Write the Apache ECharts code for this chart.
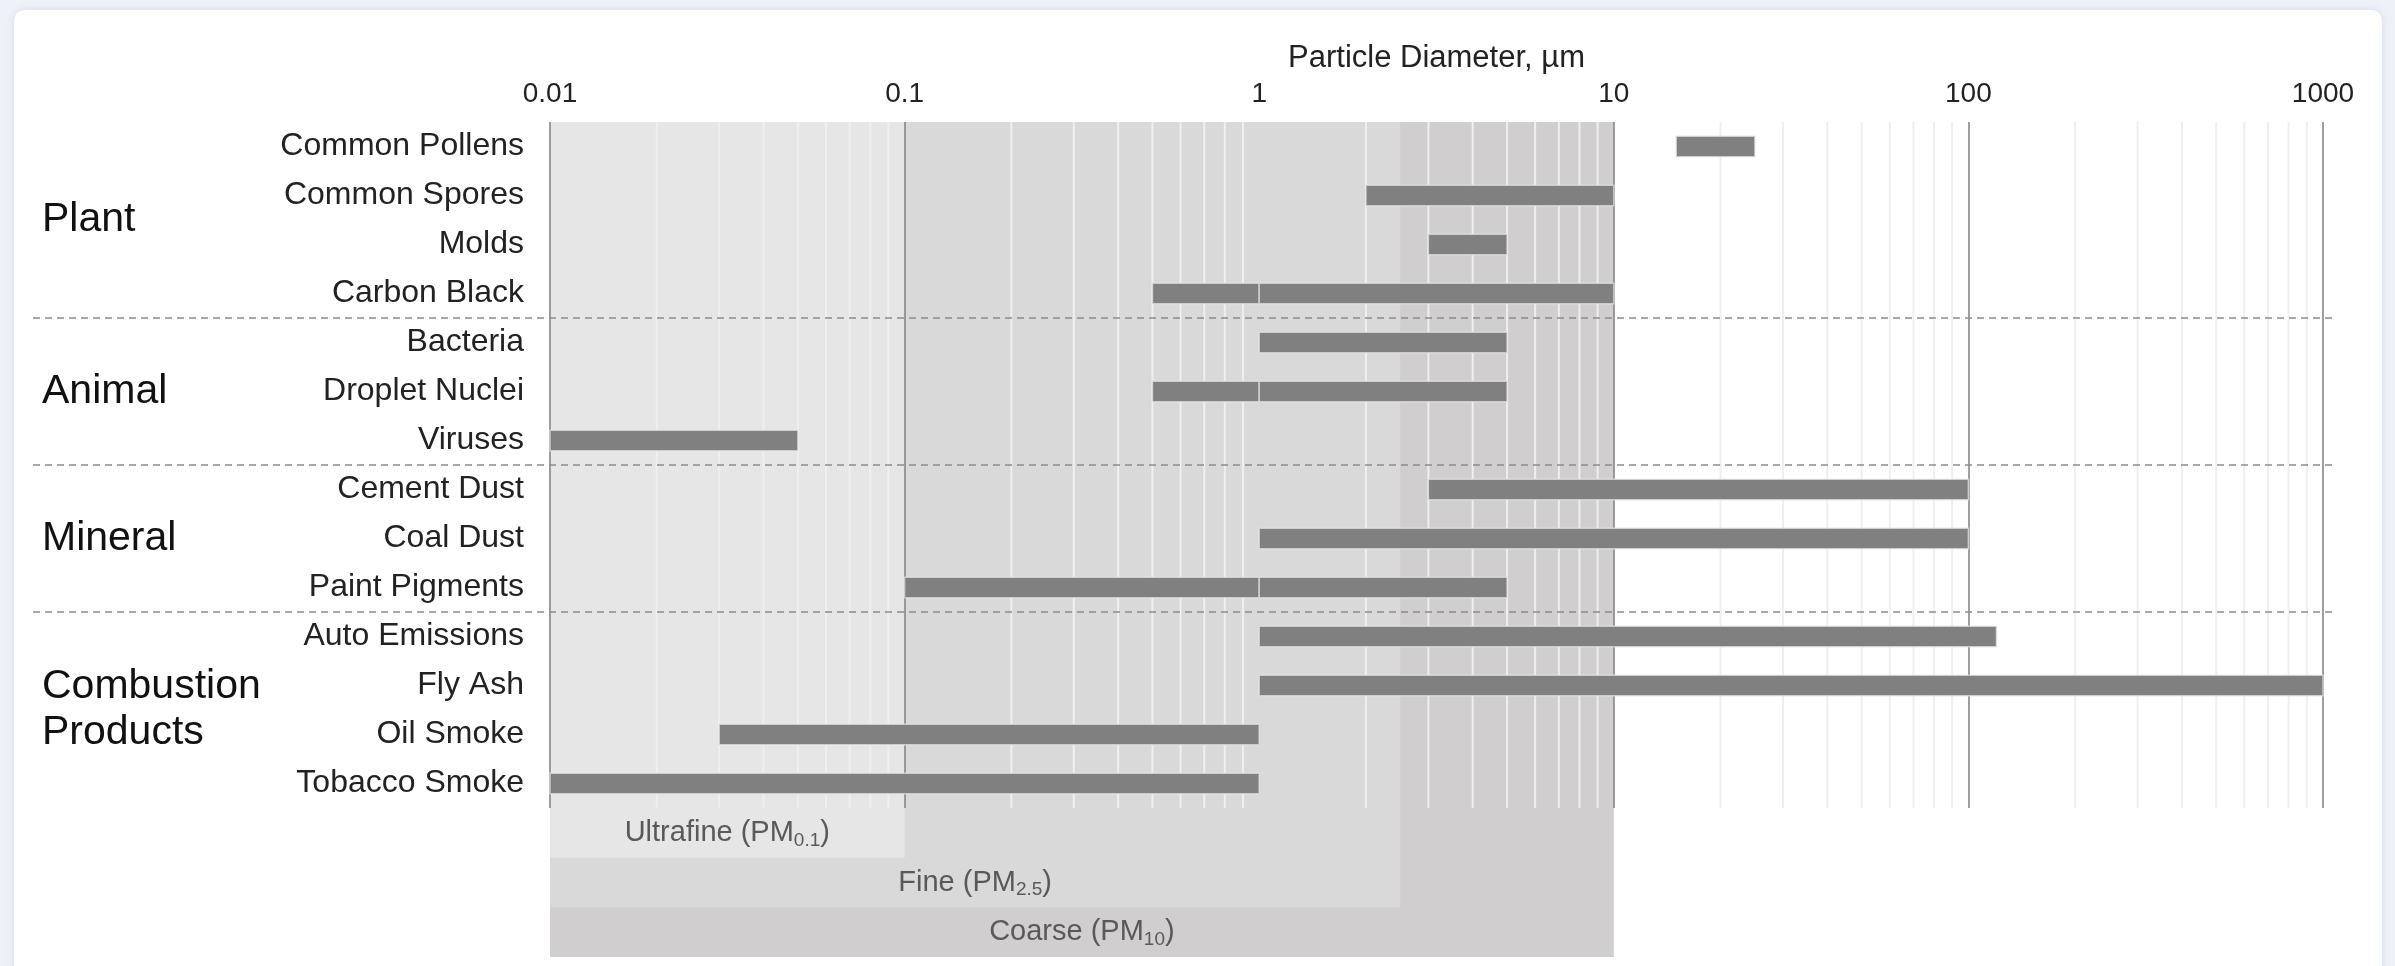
<!DOCTYPE html>
<html>
<head>
<meta charset="utf-8">
<title>Particle size ranges</title>
<script src="https://cdn.jsdelivr.net/npm/echarts@6/dist/echarts.min.js"></script>
<style>
  html, body { margin: 0; padding: 0; background: #eef1f8; overflow: hidden; }
  .card {
    position: absolute; left: 14px; top: 10px; width: 2368px; height: 1000px;
    background: #fff; border-radius: 10px;
    box-shadow: 0 0 6px rgba(190, 200, 225, 0.5);
  }
  #chart { position: absolute; left: 0; top: 0; width: 2395px; height: 966px; }
</style>
</head>
<body>
<div class="card"></div>
<div id="chart"></div>
<script>
// particle types, top to bottom
const categories = [
  'Common Pollens', 'Common Spores', 'Molds', 'Carbon Black',
  'Bacteria', 'Droplet Nuclei', 'Viruses',
  'Cement Dust', 'Coal Dust', 'Paint Pigments',
  'Auto Emissions', 'Fly Ash', 'Oil Smoke', 'Tobacco Smoke'
];
// size range in µm
const sizeLow  = [15, 2, 3, 0.5, 1, 0.5, 0.01, 3, 1, 0.1, 1, 1, 0.03, 0.01];
const sizeHigh = [25, 10, 5, 10, 5, 5, 0.05, 100, 100, 5, 120, 1000, 1, 1];
// ranges drawn as two pieces in the source
const breakAt  = [null, null, null, 1, null, 1, null, null, null, 1, null, null, null, null];

const groupNames  = ['Plant', 'Animal', 'Mineral', 'Combustion\nProducts'];
const groupCounts = [4, 3, 3, 4];

const fractionNames = ['Ultrafine', 'Fine', 'Coarse'];
const fractionSub   = ['0.1', '2.5', '10'];
const fractionLow   = [0.01, 0.01, 0.01];
const fractionHigh  = [0.1, 2.5, 10];

const xTicks = [0.01, 0.1, 1, 10, 100, 1000];

const FONT = '"Liberation Sans", Arial, sans-serif';
const bandColors = ['#e6e6e6', '#d9d9d9', '#d0cecf'];

// bar pieces: [low, high, category index]
const segments = [];
categories.forEach((name, i) => {
  if (breakAt[i]) {
    segments.push([sizeLow[i], breakAt[i], i]);
    segments.push([breakAt[i], sizeHigh[i], i]);
  } else {
    segments.push([sizeLow[i], sizeHigh[i], i]);
  }
});

// light grid lines at 2..9 of every decade
const minorLines = [];
for (let d = 0; d < xTicks.length - 1; d++) {
  for (let k = 2; k <= 9; k++) minorLines.push(+(xTicks[d] * k).toPrecision(3));
}

// widest band first so the narrow ones sit on top
const bandData = [2, 1, 0].map(i => [fractionLow[i], fractionHigh[i], i]);

const chart = echarts.init(document.getElementById('chart'));

const option = {
  animation: false,
  textStyle: { fontFamily: FONT },
  grid: [
    { left: 550, right: 72, top: 122, height: 686 },
    { left: 550, right: 72, top: 808, height: 149 }
  ],
  xAxis: [
    {
      type: 'log', gridIndex: 0, min: 0.01, max: 1000, position: 'top', z: 2,
      name: 'Particle Diameter, µm', nameLocation: 'middle', nameGap: 48,
      nameTextStyle: { fontSize: 31, color: '#222', fontFamily: FONT },
      axisLine: { show: false },
      axisTick: { show: false },
      axisLabel: {
        fontSize: 28, color: '#222', margin: 14, fontFamily: FONT,
        formatter: v => String(+v.toPrecision(3))
      },
      splitLine: {
        show: true,
        lineStyle: { color: ['#7f7f7f', '#7f7f7f', 'rgba(0,0,0,0)', '#7f7f7f', '#7f7f7f', '#7f7f7f'], width: 1.5 }
      }
    },
    {
      type: 'log', gridIndex: 1, min: 0.01, max: 1000, show: false,
      splitLine: { show: false }
    }
  ],
  yAxis: [
    {
      type: 'category', gridIndex: 0, data: categories, inverse: true,
      axisLine: { show: false }, axisTick: { show: false },
      axisLabel: { fontSize: 32, color: '#222', margin: 26, fontFamily: FONT, padding: [5, 0, 0, 0] },
      splitLine: { show: false }
    },
    {
      type: 'category', gridIndex: 1, data: fractionNames, inverse: true, show: false
    }
  ],
  series: [
    {
      // size fraction shading inside the plot
      type: 'custom', xAxisIndex: 0, yAxisIndex: 0, z: 1, silent: true,
      encode: { x: [0, 1], y: 2 },
      data: bandData,
      renderItem(params, api) {
        const cs = params.coordSys;
        const x1 = api.coord([api.value(0), 0])[0];
        const x2 = api.coord([api.value(1), 0])[0];
        return {
          type: 'rect',
          shape: { x: x1, y: cs.y, width: x2 - x1, height: cs.height },
          style: { fill: bandColors[api.value(2)] }
        };
      }
    },
    {
      // size fraction steps with their labels below the plot
      type: 'custom', xAxisIndex: 1, yAxisIndex: 1, z: 1, silent: true,
      encode: { x: [0, 1], y: 2 },
      data: bandData,
      renderItem(params, api) {
        const cs = params.coordSys;
        const idx = api.value(2);
        const rowH = api.size([0, 1])[1];
        const yc = api.coord([api.value(0), idx])[1];
        const x1 = api.coord([api.value(0), idx])[0];
        const x2 = api.coord([api.value(1), idx])[0];
        return {
          type: 'group',
          children: [
            {
              type: 'rect',
              shape: { x: x1, y: cs.y, width: x2 - x1, height: yc + rowH / 2 - cs.y },
              style: { fill: bandColors[idx] }
            },
            {
              type: 'text',
              x: (x1 + x2) / 2, y: yc,
              style: {
                text: fractionNames[idx] + ' (PM{sub|' + fractionSub[idx] + '})',
                align: 'center', verticalAlign: 'middle',
                fontSize: 29, fontFamily: FONT, fill: '#595959',
                rich: {
                  sub: { fontSize: 19, fontFamily: FONT, fill: '#595959', padding: [15, 0, 0, 0] }
                }
              }
            }
          ]
        };
      }
    },
    {
      // light minor grid lines
      type: 'custom', xAxisIndex: 0, yAxisIndex: 0, z: 2, silent: true,
      encode: { x: 0 },
      data: minorLines.map(v => [v]),
      renderItem(params, api) {
        const cs = params.coordSys;
        const x = api.coord([api.value(0), 0])[0];
        return {
          type: 'line',
          shape: { x1: x, y1: cs.y, x2: x, y2: cs.y + cs.height },
          style: { stroke: '#efefef', lineWidth: 2 }
        };
      }
    },
    {
      // size ranges
      type: 'custom', xAxisIndex: 0, yAxisIndex: 0, z: 3,
      encode: { x: [0, 1], y: 2 },
      data: segments,
      renderItem(params, api) {
        const a = api.coord([api.value(0), api.value(2)]);
        const b = api.coord([api.value(1), api.value(2)]);
        const h = api.size([0, 1])[1] * 0.42;
        return {
          type: 'rect',
          shape: { x: a[0], y: a[1] - h / 2, width: b[0] - a[0], height: h },
          style: { fill: '#808080', stroke: 'rgba(230,230,230,0.7)', lineWidth: 1.5 }
        };
      }
    }
  ]
};

chart.setOption(option);

// group separators and group names, placed from the category axis
const yOf = i => chart.convertToPixel({ yAxisIndex: 0 }, i);
const xEnd = chart.convertToPixel({ xAxisIndex: 0 }, 1000) + 10;
const graphics = [];
let start = 0;
groupNames.forEach((g, k) => {
  const end = start + groupCounts[k] - 1;
  graphics.push({
    type: 'text', left: 42, z: 10,
    top: (yOf(start) + yOf(end)) / 2 - (g.includes('\n') ? 46 : 23),
    style: { text: g, fontSize: 41, lineHeight: 46, fontFamily: FONT, fill: '#111' }
  });
  if (k < groupNames.length - 1) {
    const y = (yOf(end) + yOf(end + 1)) / 2;
    graphics.push({
      type: 'line', z: 10, silent: true,
      shape: { x1: 33, y1: y, x2: xEnd, y2: y },
      style: { stroke: '#8c8c8c', lineWidth: 1.5, lineDash: [7, 5] }
    });
  }
  start = end + 1;
});
chart.setOption({ graphic: graphics });
</script>
</body>
</html>
